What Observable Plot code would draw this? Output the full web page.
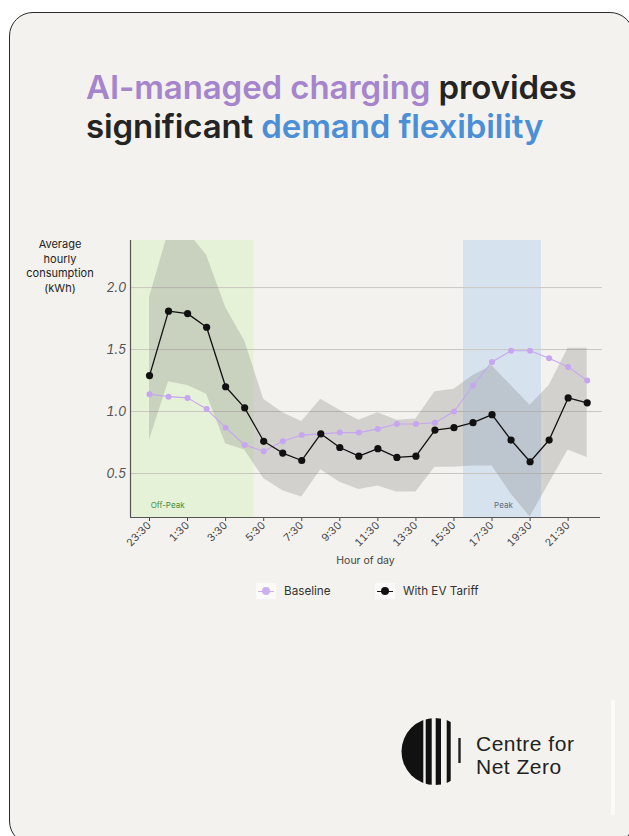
<!DOCTYPE html>
<html><head><meta charset="utf-8">
<script src="https://cdn.jsdelivr.net/npm/d3@7"></script>
<script src="https://cdn.jsdelivr.net/npm/@observablehq/plot@0.6"></script>
<style>
html,body{margin:0;padding:0;background:#fff;}
body{width:629px;height:836px;position:relative;overflow:hidden;font-family:Inter,"Noto Sans",sans-serif;}
#card{position:absolute;left:9px;top:12px;width:625px;height:833px;border:1.5px solid #2a2a2a;border-radius:24px;background:#f4f2ee;box-sizing:border-box;}
#strip{position:absolute;left:611px;top:700px;width:4px;height:115px;background:#fbfaf9;}
#title{position:absolute;left:86px;width:560px;top:68px;text-align:left;font-size:33px;font-weight:600;line-height:39px;color:#242424;letter-spacing:-0.1px;white-space:nowrap;}
#title .p{color:#a585cc;} #title .b{color:#4b8fd6;}
#ylab{position:absolute;left:15px;width:90px;top:237px;text-align:center;font-size:11px;line-height:14.5px;color:#222;}
#chart{position:absolute;left:0;top:215px;}
#legend{position:absolute;top:582px;left:0;width:629px;height:20px;font-size:11.7px;color:#333;}
.key{position:absolute;top:0;height:18px;display:flex;align-items:center;}
.sw{width:20px;height:16px;background:#fbfaf8;position:relative;margin-right:8px;}
.sw i{position:absolute;left:2px;right:2px;top:7.5px;height:1px;}
.sw b{position:absolute;left:6px;top:4px;width:8px;height:8px;border-radius:50%;}
#logo{position:absolute;left:398px;top:714px;}
#org{position:absolute;left:476px;top:732px;font-size:21px;line-height:23px;color:#222;font-family:"Liberation Sans",Arial,sans-serif;letter-spacing:0.5px;}
</style></head>
<body>
<div id="card"></div>
<div id="strip"></div>
<div id="title"><span class="p">AI-managed charging</span> provides<br>significant <span class="b">demand flexibility</span></div>
<div id="ylab">Average<br>hourly<br>consumption<br>(kWh)</div>
<div id="chart"></div>
<div id="legend">
  <div class="key" style="left:256px"><span class="sw"><i style="background:#cbb0ef"></i><b style="background:#cbb0ef"></b></span>Baseline</div>
  <div class="key" style="left:375px"><span class="sw"><i style="background:#111"></i><b style="background:#111"></b></span>With EV Tariff</div>
</div>
<svg id="logo" width="70" height="76" viewBox="398 714 70 76">
  <defs><clipPath id="cc"><circle cx="435" cy="751.5" r="33.5"/></clipPath></defs>
  <g clip-path="url(#cc)" fill="#111">
    <rect x="400" y="714" width="23.3" height="76"/>
    <rect x="425.7" y="714" width="6" height="76"/>
    <rect x="435.7" y="714" width="5.3" height="76"/>
    <rect x="446.7" y="714" width="4" height="76"/>
  </g>
  <rect x="458.3" y="738" width="2.4" height="25" fill="#222"/>
</svg>
<div id="org">Centre for<br>Net Zero</div>
<script>
const hours = ["23:30","0:30","1:30","2:30","3:30","4:30","5:30","6:30","7:30","8:30","9:30","10:30",
               "11:30","12:30","13:30","14:30","15:30","16:30","17:30","18:30","19:30","20:30","21:30","22:30"];
const baseline = [1.14,1.12,1.11,1.02,0.87,0.73,0.68,0.76,0.81,0.82,0.83,0.83,
                  0.86,0.90,0.90,0.91,1.00,1.21,1.40,1.49,1.49,1.43,1.36,1.25];
const tariff   = [1.29,1.81,1.79,1.68,1.20,1.03,0.76,0.665,0.605,0.82,0.71,0.64,
                  0.70,0.63,0.64,0.85,0.87,0.91,0.975,0.77,0.595,0.77,1.11,1.07];
const tariffLow  = [0.77,1.24,1.21,1.14,0.74,0.69,0.46,0.36,0.31,0.53,0.43,0.37,
                    0.40,0.35,0.35,0.55,0.55,0.56,0.56,0.335,0.15,0.42,0.69,0.63];
const tariffHigh = [1.92,2.45,2.45,2.26,1.84,1.57,1.10,0.99,0.92,1.10,1.01,0.93,
                    0.99,0.93,0.94,1.16,1.18,1.29,1.37,1.21,1.05,1.21,1.51,1.51];
const periodNames = ["Off-Peak","Peak"];
const periodStart = [-1, 16.5];
const periodEnd = [5.5, 20.6];
const periodLabelAt = [0.95, 18.6];
const periodFill = ["#e6f2d8","#d6e2ee"];
const periodText = ["#3b8f3b","#5b6b80"];
const yTicks = [0.5,1.0,1.5,2.0];

const rows = hours.map((h,i)=>({i, h, base: baseline[i], ev: tariff[i], lo: tariffLow[i], hi: tariffHigh[i]}));
const periods = periodNames.map((name,k)=>({name, start: periodStart[k], end: periodEnd[k], lx: periodLabelAt[k], fill: periodFill[k], tc: periodText[k]}));
const yMin = 0.145, yMax = 2.38;

const chart = Plot.plot({
  width: 629, height: 360,
  marginLeft: 130, marginRight: 29, marginTop: 25, marginBottom: 58,
  style: {background: "transparent", fontFamily: "Inter, 'Noto Sans', sans-serif", color: "#444"},
  x: {domain: [-1, 23.7]},
  y: {domain: [yMin, yMax]},
  marks: [
    Plot.rect(periods, {x1: "start", x2: "end", y1: yMin, y2: yMax, fill: d => d.fill}),
    Plot.ruleY(yTicks, {stroke: "#c9c6c0", strokeWidth: 1, x1: -1, x2: 23.8}),
    Plot.areaY(rows, {x: "i", y1: "lo", y2: "hi", fill: "#7c7c7c", fillOpacity: 0.28, clip: true}),
    Plot.line(rows, {x: "i", y: "base", stroke: "#c6a6ee", strokeWidth: 1.1}),
    Plot.dot(rows, {x: "i", y: "base", fill: "#c6a6ee", r: 3}),
    Plot.line(rows, {x: "i", y: "ev", stroke: "#111", strokeWidth: 1.3}),
    Plot.dot(rows, {x: "i", y: "ev", fill: "#111", r: 3.6}),
    Plot.text(periods, {x: "lx", y: 0.24, text: "name", fill: d => d.tc, fontSize: 8}),
    Plot.axisY({ticks: yTicks, tickFormat: d3.format(".1f"), tickSize: 0, tickPadding: 4, fontSize: 13, fontStyle: "italic", fill: "#555", label: null}),
    Plot.axisX({ticks: d3.range(0, 24, 2), tickFormat: i => hours[i], tickRotate: -45, tickSize: 4, tickPadding: 2, fontSize: 10.5, fill: "#444",
                label: "Hour of day", labelAnchor: "center", labelArrow: "none", labelOffset: 46}),
    Plot.ruleX([-1], {stroke: "#555", strokeWidth: 1.2}),
    Plot.ruleY([yMin], {stroke: "#555", strokeWidth: 1.2})
  ]
});
document.getElementById("chart").appendChild(chart);
</script>
</body></html>
